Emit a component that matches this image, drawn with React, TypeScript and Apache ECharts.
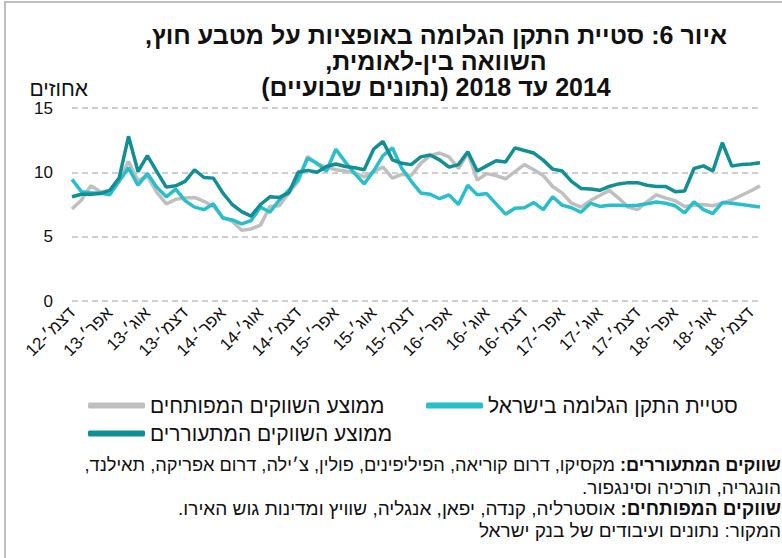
import React, { useEffect, useRef } from "react";
import * as echarts from "echarts";

const RLM = "\u200F";
const FONT = "'Liberation Sans', Arial, 'DejaVu Sans', sans-serif";

const monthNames = ["ינו׳", "פבר׳", "מרץ", "אפר׳", "מאי", "יוני", "יולי", "אוג׳", "ספט׳", "אוק׳", "נוב׳", "דצמ׳"];
// Dec-12 .. Jan-19 (74 monthly points)
const categories: string[] = (() => {
  const out: string[] = ["דצמ׳-12"];
  for (let y = 13; y <= 18; y++) for (let m = 0; m < 12; m++) out.push(`${monthNames[m]}-${y}`);
  out.push("ינו׳-19");
  return out;
})();

const israel = [
  9.45, 8.5, 8.4, 8.4, 8.25, 9.3, 10.35, 9.0, 9.9, 8.85,
  8.1, 8.7, 7.8, 7.3, 7.1, 7.55, 6.45, 6.3, 6.0, 6.25,
  7.3, 6.9, 7.85, 8.6, 9.45, 11.1, 10.7, 10.1, 11.8, 10.8,
  9.9, 9.1, 10.1, 11.3, 11.9, 10.3, 9.3, 8.4, 8.3, 7.95,
  8.25, 7.5, 9.0, 8.25, 8.35, 7.55, 6.75, 7.2, 7.25, 7.65,
  7.1, 8.1, 7.45, 7.25, 6.9, 7.6, 7.35, 7.45, 7.45, 7.4,
  7.45, 7.55, 7.7, 7.6, 7.4, 6.85, 7.7, 7.1, 6.8, 7.65,
  7.6, 7.5, 7.4, 7.3,
];

const developed = [
  7.15, 7.85, 8.95, 8.5, 8.55, 9.4, 10.85, 9.35, 9.7, 8.45,
  7.55, 7.9, 8.0, 8.05, 7.75, 7.35, 6.5, 6.2, 5.5, 5.6,
  5.9, 7.35, 7.4, 8.4, 9.3, 11.25, 10.65, 10.4, 10.2, 10.1,
  9.95, 9.65, 10.05, 10.4, 9.55, 9.85, 9.75, 10.7, 11.3, 11.5,
  11.2, 10.3, 11.5, 9.4, 9.9, 9.75, 9.5, 10.06, 10.6, 10.2,
  9.75, 8.9, 8.4, 7.6, 7.3, 7.8, 8.2, 8.6, 8.0, 7.3,
  7.1, 7.7, 8.25, 8.0, 7.8, 7.35, 7.45, 7.5, 7.4, 7.6,
  7.85, 8.2, 8.55, 8.95,
];

const emerging = [
  8.1, 8.3, 8.3, 8.35, 8.6, 9.55, 12.8, 10.06, 11.3, 10.06,
  8.85, 8.95, 9.3, 10.2, 9.6, 9.55, 8.4, 7.5, 6.95, 6.6,
  7.5, 8.1, 8.05, 8.4, 10.0, 10.15, 10.0, 10.45, 10.65, 10.45,
  10.35, 10.2, 11.8, 12.4, 10.97, 10.7, 10.6, 11.2, 11.35, 10.97,
  10.4, 10.6, 11.6, 10.1, 10.5, 10.9, 10.8, 11.9, 11.7, 11.5,
  10.95, 10.25, 10.1, 9.3, 8.75, 8.7, 8.6, 8.9, 9.1, 9.2,
  9.2, 9.0, 8.9, 8.9, 8.5, 8.55, 10.3, 10.5, 10.1, 12.3,
  10.5, 10.6, 10.65, 10.75,
];

const seriesNames = ["סטיית התקן הגלומה בישראל", "ממוצע השווקים המפותחים", "ממוצע השווקים המתעוררים"];
const seriesColors = ["#27BFCB", "#BFBFBF", "#118F94"];

const titleLines = [
  "איור 6: סטיית התקן הגלומה באופציות על מטבע חוץ,",
  "השוואה בין-לאומית,",
  "2014 עד 2018 (נתונים שבועיים)",
];
const yUnit = "אחוזים";
const notes = [
  { bold: "שווקים המתעוררים:", text: "מקסיקו, דרום קוריאה, הפיליפינים, פולין, צ׳ילה, דרום אפריקה, תאילנד," },
  { bold: "", text: "הונגריה, תורכיה וסינגפור." },
  { bold: "שווקים המפותחים:", text: "אוסטרליה, קנדה, יפאן, אנגליה, שוויץ ומדינות גוש האירו." },
  { bold: "", text: "המקור: נתונים ועיבודים של בנק ישראל" },
];

const rtl = (s: string) => RLM + s + RLM;

export default function App() {
  const ref = useRef<HTMLDivElement>(null);
  useEffect(() => {
    document.body.style.margin = "0";
    const chart = echarts.init(ref.current!, null, { renderer: "svg" });
    const noteY = [465, 487, 508, 530];
    const noteSize = [18.2, 19, 19, 19];
    const titleY = [35, 61, 87];
    const option: any = {
      animation: false,
      backgroundColor: "#fff",
      textStyle: { fontFamily: FONT },
      grid: { left: 72, right: 22, top: 108, height: 193 },
      xAxis: {
        type: "category",
        data: categories,
        boundaryGap: false,
        axisLine: { show: false },
        axisTick: { show: false },
        axisLabel: { interval: 3, rotate: 45, margin: 9, fontSize: 17, color: "#111", fontFamily: FONT },
      },
      yAxis: {
        type: "value",
        min: 0,
        max: 15,
        interval: 5,
        axisLine: { show: false },
        axisTick: { show: false },
        axisLabel: { fontSize: 17, color: "#111", margin: 19, fontFamily: FONT },
        splitLine: { lineStyle: { type: [6, 4], color: "#BFBFBF", width: 1.6 } },
      },
      legend: [
        { data: [seriesNames[0]], left: 421, top: 390 },
        { data: [seriesNames[1]], left: 83, top: 390 },
        { data: [seriesNames[2]], left: 83, top: 418 },
      ].map((l) => ({
        ...l,
        icon: "roundRect",
        itemWidth: 57,
        itemHeight: 6,
        textStyle: { fontSize: 21, color: "#111", fontFamily: FONT },
      })),
      series: [
        { name: seriesNames[1], data: developed, color: seriesColors[1] },
        { name: seriesNames[0], data: israel, color: seriesColors[0] },
        { name: seriesNames[2], data: emerging, color: seriesColors[2] },
      ].map((s) => ({
        ...s,
        type: "line",
        symbol: "none",
        lineStyle: { width: 3.5, color: s.color },
        itemStyle: { color: s.color },
      })),
      graphic: [
        {
          type: "rect",
          silent: true,
          shape: { x: 5, y: 2, width: 900, height: 700 },
          style: { fill: "none", stroke: "#BEBEBE", lineWidth: 2 },
        },
        ...titleLines.map((t, i) => ({
          type: "text",
          x: 436,
          y: titleY[i],
          style: {
            text: rtl(t),
            fill: "#111",
            fontSize: 25,
            fontWeight: "bold",
            fontFamily: FONT,
            textAlign: "center",
            textVerticalAlign: "middle",
          },
        })),
        {
          type: "text",
          x: 88,
          y: 88,
          style: { text: yUnit, fill: "#111", fontSize: 21, fontFamily: FONT, textAlign: "right", textVerticalAlign: "middle" },
        },
        ...notes.map((n, i) => ({
          type: "text",
          x: 781,
          y: noteY[i],
          style: {
            text: n.bold ? `{n|${rtl(" " + n.text)}}{b|${rtl(n.bold)}}` : `{n|${rtl(n.text)}}`,
            fill: "#111",
            fontSize: noteSize[i],
            fontFamily: FONT,
            textAlign: "right",
            textVerticalAlign: "middle",
            rich: {
              n: { fontSize: noteSize[i], fontFamily: FONT, fill: "#111" },
              b: { fontSize: noteSize[i], fontFamily: FONT, fontWeight: "bold", fill: "#111" },
            },
          },
        })),
      ],
    };
    chart.setOption(option);
    return () => chart.dispose();
  }, []);
  return <div ref={ref} style={{ position: "fixed", left: 0, top: 0, width: 782, height: 558, background: "#fff" }} />;
}
